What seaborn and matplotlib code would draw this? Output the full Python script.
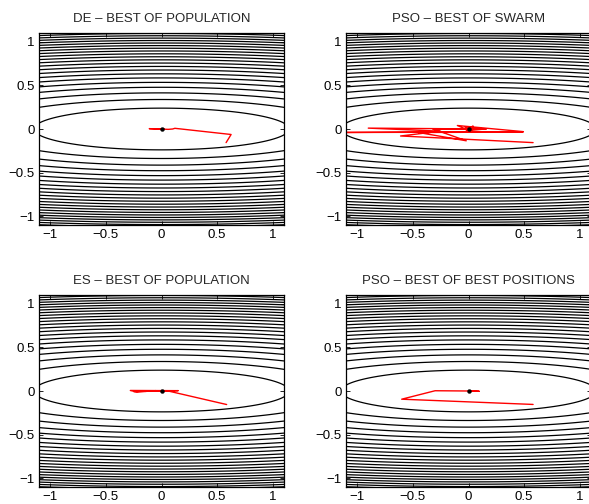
import numpy as np
import matplotlib
matplotlib.use("Agg")
import matplotlib.pyplot as plt
import seaborn as sns

# ---- data ----
titles = ["DE – BEST OF POPULATION", "PSO – BEST OF SWARM",
          "ES – BEST OF POPULATION", "PSO – BEST OF BEST POSITIONS"]

de_x = [0.58, 0.625, 0.12, 0.10, 0.06, -0.11, 0.0, 0.02, 0.0]
de_y = [-0.156, -0.063, 0.008, 0.000, -0.004, 0.004, 0.0, 0.001, 0.0]

pso_swarm_x = [0.58, -0.61, -0.25, -0.90, 0.16, -0.32, -0.02, -0.45, 0.49, -1.2, 0.49,
               -0.10, 0.03, 0.04, -0.02, 0.15, -0.03, 0.05, 0.0]
pso_swarm_y = [-0.156, -0.08, -0.025, 0.01, 0.0, 0.0, -0.135, -0.04, -0.035, -0.04, -0.03,
               0.04, -0.03, 0.035, -0.02, 0.0, 0.02, 0.005, 0.0]

es_x = [0.585, 0.06, 0.15, -0.28, -0.22, -0.05, -0.25, 0.10, -0.15, 0.03, 0.0]
es_y = [-0.155, 0.0, 0.004, 0.006, -0.012, 0.004, -0.006, 0.002, -0.004, 0.001, 0.0]

pso_best_x = [0.58, -0.60, -0.30, 0.0, 0.095, 0.0]
pso_best_y = [-0.154, -0.094, 0.003, 0.0, -0.003, 0.0]

paths_x = [de_x, pso_swarm_x, es_x, pso_best_x]
paths_y = [de_y, pso_swarm_y, es_y, pso_best_y]

opt_x = [0.0]
opt_y = [0.0]

# objective: f = x^2 + c*y^2, contour levels evenly spaced
y_weight = 23.0
level_step = 1.313
n_levels = 30

ticks = [-1, -0.5, 0, 0.5, 1]
tick_labels = ["\u22121", "\u22120.5", "0", "0.5", "1"]

# ---- style ----
sns.set_theme(style="white")
plt.rcParams['font.family'] = ['Liberation Sans', 'DejaVu Sans']
plt.rcParams.update({
    "xtick.direction": "in", "ytick.direction": "in",
    "xtick.top": True, "ytick.right": True,
    "xtick.bottom": True, "ytick.left": True,
    "xtick.major.size": 3, "ytick.major.size": 3,
    "xtick.major.width": 0.6, "ytick.major.width": 0.6,
    "xtick.color": "black", "ytick.color": "black",
    "xtick.labelsize": 9.5, "ytick.labelsize": 9.5,
    "xtick.major.pad": 3, "ytick.major.pad": 3,
    "axes.edgecolor": "black", "axes.linewidth": 0.9,
    "axes.titlesize": 9.5,
})

fig = plt.figure(figsize=(5.89, 5.04), dpi=100)
W, H = 589, 504
positions = [(39, 33), (346, 33), (39, 295), (346, 295)]
aw, ah = 245, 192

gx = np.linspace(-1.15, 1.15, 500)
gy = np.linspace(-1.15, 1.15, 500)
GX, GY = np.meshgrid(gx, gy)
GZ = GX**2 + y_weight * GY**2
levels = level_step * np.arange(1, n_levels + 1)

for i, (l, t) in enumerate(positions):
    ax = fig.add_axes([l / W, (H - t - ah) / H, aw / W, ah / H])
    ax.contour(GX, GY, GZ, levels=levels, colors="black", linewidths=0.9)
    sns.lineplot(x=paths_x[i], y=paths_y[i], sort=False, estimator=None,
                 color="red", linewidth=1.0, ax=ax)
    sns.scatterplot(x=opt_x, y=opt_y, color="black", s=8, edgecolor="black",
                    linewidth=0.3, ax=ax, zorder=5)
    ax.set_xlim(-1.1, 1.1)
    ax.set_ylim(-1.1, 1.1)
    ax.set_xticks(ticks)
    ax.set_yticks(ticks)
    ax.set_xticklabels(tick_labels)
    ax.set_yticklabels(tick_labels)
    ax.set_title(titles[i], pad=8)
    ax.set_xlabel("")
    ax.set_ylabel("")
    for s in ax.spines.values():
        s.set_visible(True)

fig.savefig("out.png", dpi=100)
